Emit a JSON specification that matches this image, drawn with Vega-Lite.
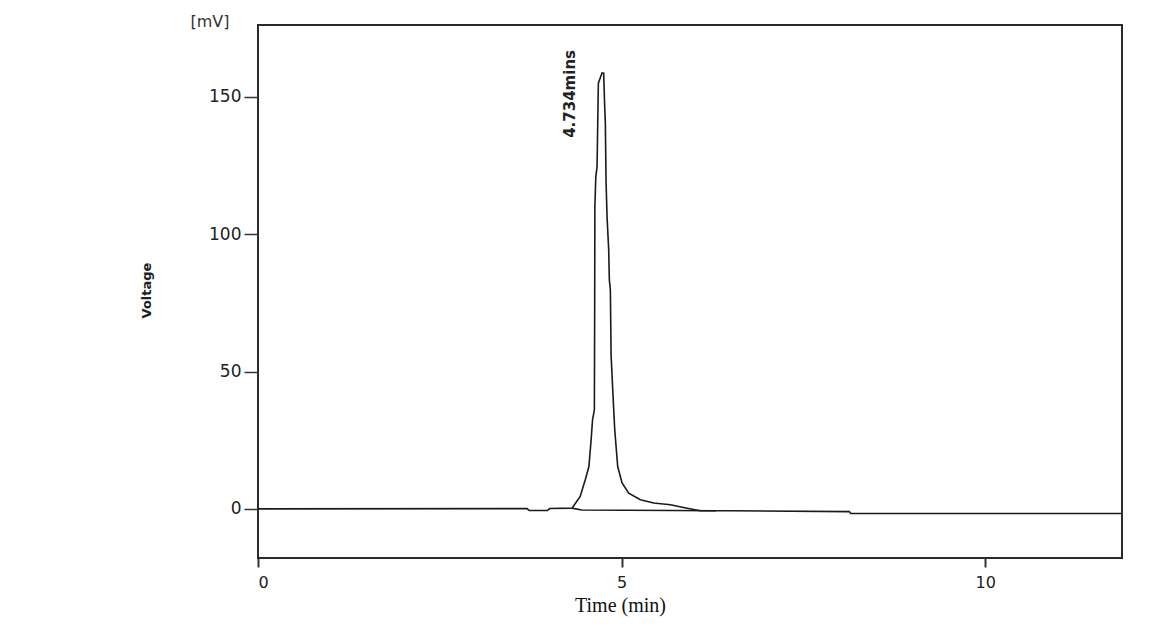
{
  "$schema": "https://vega.github.io/schema/vega-lite/v6.json",
  "autosize": {"type": "none"},
  "padding": {"left": 258, "top": 25, "right": 46, "bottom": 72},
  "width": 864,
  "height": 533,
  "background": "white",
  "config": {
    "view": {"stroke": "#2a2a2a", "strokeWidth": 2},
    "axis": {"grid": false, "domain": false, "labelFont": "DejaVu Sans", "labelColor": "#222", "tickColor": "#333"}
  },
  "datasets": {
    "trace": [
      {"s": "trace", "i": 1, "t": 0, "v": 0},
      {"s": "trace", "i": 2, "t": 3.70, "v": 0.1},
      {"s": "trace", "i": 3, "t": 3.73, "v": -0.6},
      {"s": "trace", "i": 4, "t": 3.98, "v": -0.6},
      {"s": "trace", "i": 5, "t": 4.01, "v": 0.1},
      {"s": "trace", "i": 6, "t": 4.318, "v": 0.25},
      {"s": "trace", "i": 7, "t": 4.43, "v": 4.5},
      {"s": "trace", "i": 8, "t": 4.50, "v": 10.6},
      {"s": "trace", "i": 9, "t": 4.55, "v": 15.4},
      {"s": "trace", "i": 10, "t": 4.58, "v": 25},
      {"s": "trace", "i": 11, "t": 4.60, "v": 32.4},
      {"s": "trace", "i": 12, "t": 4.625, "v": 36},
      {"s": "trace", "i": 13, "t": 4.629, "v": 70},
      {"s": "trace", "i": 14, "t": 4.632, "v": 110},
      {"s": "trace", "i": 15, "t": 4.645, "v": 121},
      {"s": "trace", "i": 16, "t": 4.662, "v": 124.6},
      {"s": "trace", "i": 17, "t": 4.680, "v": 155},
      {"s": "trace", "i": 18, "t": 4.731, "v": 158.8},
      {"s": "trace", "i": 19, "t": 4.753, "v": 158.7},
      {"s": "trace", "i": 20, "t": 4.767, "v": 146.5},
      {"s": "trace", "i": 21, "t": 4.776, "v": 140.6},
      {"s": "trace", "i": 22, "t": 4.786, "v": 118.8},
      {"s": "trace", "i": 23, "t": 4.80, "v": 106},
      {"s": "trace", "i": 24, "t": 4.822, "v": 94.4},
      {"s": "trace", "i": 25, "t": 4.831, "v": 83.4},
      {"s": "trace", "i": 26, "t": 4.845, "v": 79.8},
      {"s": "trace", "i": 27, "t": 4.855, "v": 56},
      {"s": "trace", "i": 28, "t": 4.882, "v": 40.9},
      {"s": "trace", "i": 29, "t": 4.905, "v": 28.8},
      {"s": "trace", "i": 30, "t": 4.946, "v": 15.4},
      {"s": "trace", "i": 31, "t": 5.006, "v": 9.4},
      {"s": "trace", "i": 32, "t": 5.097, "v": 5.7},
      {"s": "trace", "i": 33, "t": 5.258, "v": 3.3},
      {"s": "trace", "i": 34, "t": 5.441, "v": 2.1},
      {"s": "trace", "i": 35, "t": 5.671, "v": 1.5},
      {"s": "trace", "i": 36, "t": 5.90, "v": 0.25},
      {"s": "trace", "i": 37, "t": 6.08, "v": -0.7},
      {"s": "trace", "i": 38, "t": 6.50, "v": -0.7},
      {"s": "trace", "i": 39, "t": 8.13, "v": -1.0},
      {"s": "trace", "i": 40, "t": 8.15, "v": -1.7},
      {"s": "trace", "i": 41, "t": 11.88, "v": -1.7},
      {"s": "baseline", "i": 1, "t": 4.318, "v": 0.25},
      {"s": "baseline", "i": 2, "t": 4.45, "v": -0.4},
      {"s": "baseline", "i": 3, "t": 6.3, "v": -0.7}
    ],
    "labels": [
      {"t": 4.295, "v": 151.1, "txt": "4.734mins"}
    ],
    "unit": [
      {"t": -0.66, "v": 177.3, "txt": "[mV]"}
    ]
  },
  "layer": [
    {
      "data": {"name": "trace"},
      "mark": {"type": "line", "color": "#1a1a1a", "strokeWidth": 1.6, "clip": true},
      "encoding": {
        "x": {
          "field": "t", "type": "quantitative",
          "scale": {"domain": [0, 11.88], "nice": false, "zero": false},
          "axis": {
            "values": [0, 5, 10], "format": "d", "tickSize": 9, "tickWidth": 2, "labelFontSize": 16, "labelPadding": 7,
            "title": "Time (min)", "titleFont": "Liberation Serif", "titleFontSize": 20, "titleFontWeight": "normal",
            "titleColor": "#111", "titleX": 362, "titleY": 47, "titleBaseline": "middle", "titleAlign": "center"
          }
        },
        "y": {
          "field": "v", "type": "quantitative",
          "scale": {"domain": [-17.9, 176.2], "nice": false, "zero": false},
          "axis": {
            "values": [0, 50, 100, 150], "format": "d", "tickSize": 14, "tickWidth": 1.5, "labelFontSize": 17, "labelPadding": 3,
            "title": "Voltage", "titleFont": "DejaVu Sans", "titleFontSize": 13, "titleFontWeight": "bold",
            "titleColor": "#222", "titleX": -112, "titleY": 265, "titleBaseline": "middle", "titleAlign": "center", "titleAngle": 270
          }
        },
        "detail": {"field": "s"},
        "order": {"field": "i", "type": "quantitative"}
      }
    },
    {
      "data": {"name": "labels"},
      "mark": {"type": "text", "angle": 270, "font": "DejaVu Sans", "fontSize": 15, "fontWeight": "bold", "color": "#222", "align": "center", "baseline": "middle"},
      "encoding": {
        "x": {"field": "t", "type": "quantitative"},
        "y": {"field": "v", "type": "quantitative"},
        "text": {"field": "txt"}
      }
    },
    {
      "data": {"name": "unit"},
      "mark": {"type": "text", "font": "DejaVu Sans", "fontSize": 16, "color": "#333", "align": "center", "baseline": "middle"},
      "encoding": {
        "x": {"field": "t", "type": "quantitative"},
        "y": {"field": "v", "type": "quantitative"},
        "text": {"field": "txt"}
      }
    }
  ]
}
